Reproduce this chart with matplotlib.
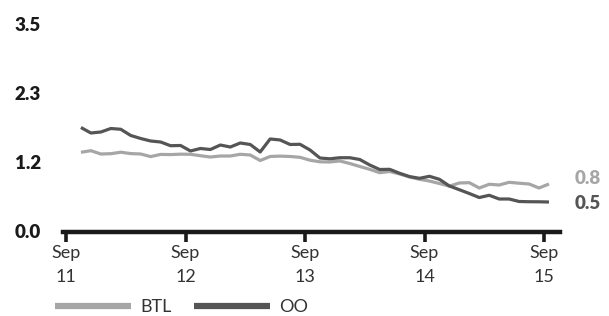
import matplotlib
matplotlib.use("Agg")
import matplotlib.pyplot as plt
import numpy as np

plt.rcParams['font.family'] = ['Lato', 'DejaVu Sans']

# Monthly data, Oct 2011 .. Sep 2015
start_year = 2011 + 9.5 / 12  # mid-October 2011
btl = [1.331, 1.358, 1.302, 1.307, 1.332, 1.309, 1.302, 1.258, 1.295, 1.292,
       1.299, 1.297, 1.273, 1.251, 1.268, 1.268, 1.297, 1.285, 1.192, 1.260,
       1.266, 1.260, 1.246, 1.197, 1.170, 1.167, 1.184, 1.141, 1.091, 1.043,
       0.986, 1.006, 0.964, 0.913, 0.874, 0.845, 0.803, 0.758, 0.812, 0.817,
       0.727, 0.790, 0.778, 0.823, 0.808, 0.795, 0.727, 0.795]
oo = [1.750, 1.657, 1.674, 1.733, 1.720, 1.615, 1.564, 1.522, 1.505, 1.442,
      1.446, 1.353, 1.395, 1.378, 1.454, 1.420, 1.488, 1.463, 1.336, 1.556,
      1.539, 1.463, 1.466, 1.370, 1.234, 1.221, 1.239, 1.239, 1.209, 1.116,
      1.040, 1.043, 0.976, 0.920, 0.891, 0.925, 0.874, 0.761, 0.698, 0.634,
      0.566, 0.604, 0.541, 0.541, 0.499, 0.495, 0.494, 0.490]
x = [start_year + i / 12 for i in range(len(btl))]

xticks = [2011 + 8 / 12 + k for k in range(5)]
xticklabels = ["Sep\n11", "Sep\n12", "Sep\n13", "Sep\n14", "Sep\n15"]
yticks = [0, 3.5 / 3, 7 / 3, 3.5]
yticklabels = ["0.0", "1.2", "2.3", "3.5"]
end_labels = ["0.8", "0.5"]

c_btl = "#a6a6a6"
c_oo = "#555555"

fig = plt.figure(figsize=(6.09, 3.16), dpi=100)
ax = fig.add_axes([63 / 609, (316 - 231) / 316, 497 / 609, 207 / 316])

l1, = ax.plot(x, btl, color=c_btl, lw=2.3, solid_capstyle='butt', label="BTL")
l2, = ax.plot(x, oo, color=c_oo, lw=2.3, solid_capstyle='butt', label="OO")

ax.set_xlim(2011 + 8 / 12 - 3 / 119.5, 2011 + 8 / 12 + 494 / 119.5)
ax.set_ylim(0, 3.5)
for s in ["top", "right", "left"]:
    ax.spines[s].set_visible(False)
ax.spines["bottom"].set_linewidth(3.2)
ax.spines["bottom"].set_color("#1a1a1a")
ax.spines["bottom"].set_position(("outward", 1))

ax.set_xticks(xticks)
ax.set_xticklabels(xticklabels, fontsize=13, color="#333333", linespacing=1.6)
ax.tick_params(axis="x", direction="out", length=7, width=2.6, color="#1a1a1a", pad=2)
ax.set_yticks(yticks)
ax.set_yticklabels(yticklabels, fontsize=13.5, fontweight="heavy", color="#1a1a1a")
ax.tick_params(axis="y", length=0, pad=16)

ax.text(1.03, btl[-1] + 0.1, end_labels[0], transform=ax.get_yaxis_transform(),
        fontsize=13.5, fontweight="heavy", color=c_btl, va="center", ha="left")
ax.text(1.03, oo[-1] - 0.02, end_labels[1], transform=ax.get_yaxis_transform(),
        fontsize=13.5, fontweight="heavy", color=c_oo, va="center", ha="left")

leg = fig.legend(handles=[l1, l2], loc="center left", bbox_to_anchor=(55 / 609, 9 / 316),
                 ncol=2, frameon=False, fontsize=13, handlelength=4.2,
                 handletextpad=0.55, columnspacing=1.2, borderpad=0, borderaxespad=0)
for lh in leg.get_lines():
    lh.set_linewidth(4.5)
for t in leg.get_texts():
    t.set_color("#333333")

fig.savefig("out.png", dpi=100)
